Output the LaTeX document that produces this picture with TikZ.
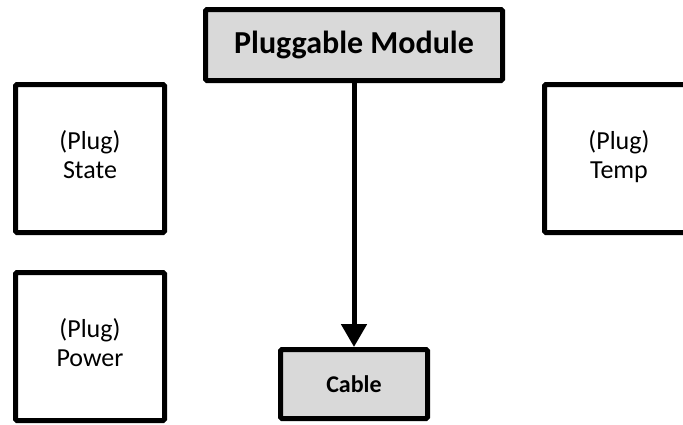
\documentclass[tikz,border=0pt]{standalone}
\usepackage{fontspec}
\setmainfont{Carlito}
\usetikzlibrary{arrows.meta}
\definecolor{boxgray}{RGB}{217,217,217}
\tikzset{
  plugbox/.style={draw,line width=5pt,rounded corners=1.5pt,minimum width=149pt,minimum height=148pt,align=center,font=\fontsize{26}{29}\selectfont},
  modbox/.style={draw,fill=boxgray,line width=5pt,rounded corners=1.5pt,font=\bfseries\fontsize{32}{38}\selectfont},
  link/.style={line width=5pt,-{Triangle[width=25pt,length=23pt]}}
}
\begin{document}
\begin{tikzpicture}[x=1pt,y=-1pt]
\useasboundingbox (0,0) rectangle (683,424);
\clip (0,0) rectangle (683,424);
%module and cable
\node[modbox,minimum width=297pt,minimum height=71pt] (module) at (354,45) {Pluggable Module};
\node[modbox,minimum width=147pt,minimum height=69pt,font=\bfseries\fontsize{24}{28}\selectfont] (cable) at (354,384) {Cable};
%plug boxes
\node[plugbox] (state) at (90,158.5) {(Plug)\\State\strut};
\node[plugbox] (power) at (90,346.5) {(Plug)\\Power\strut};
\node[plugbox] (temp) at (619,158.5) {(Plug)\\Temp\strut};
%arrow
\draw[link] (module) -- (cable);
\end{tikzpicture}
\end{document}
